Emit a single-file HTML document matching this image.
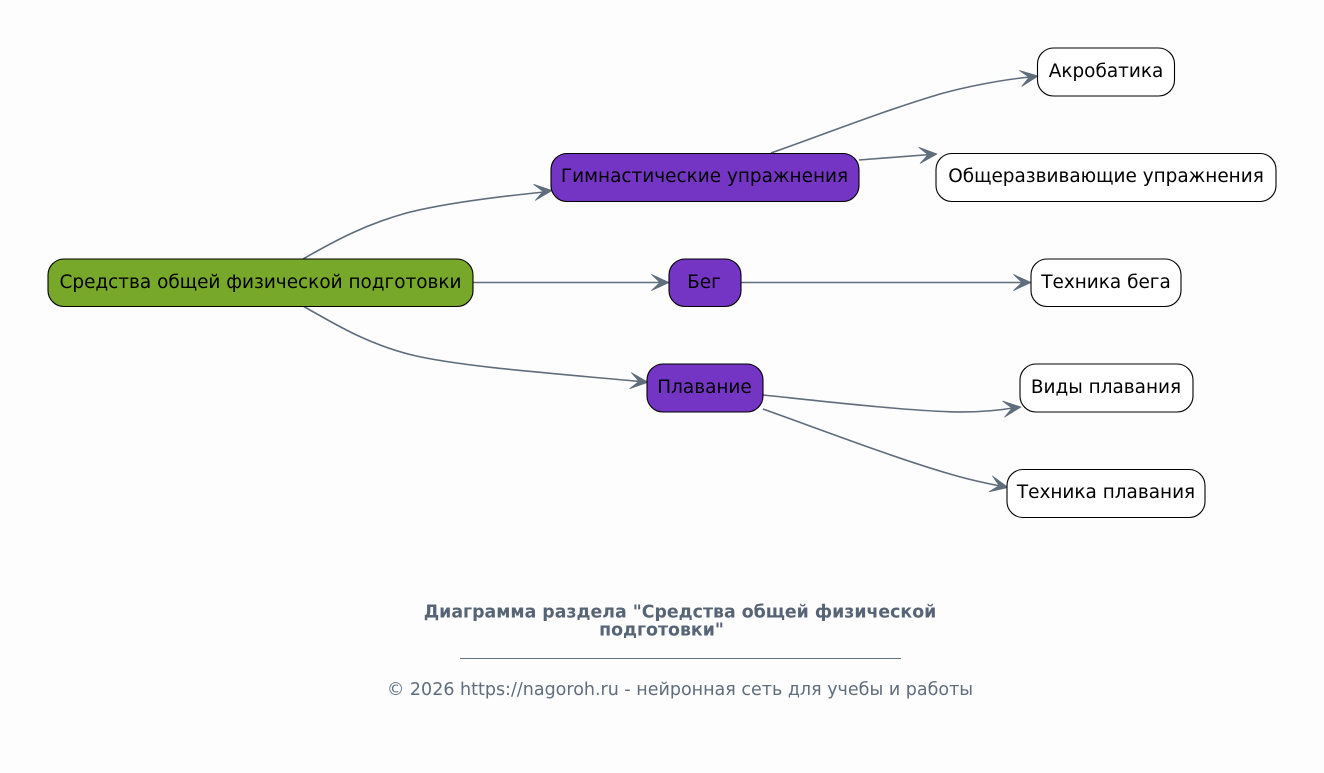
<!DOCTYPE html>
<html><head><meta charset="utf-8"><style>
html,body{margin:0;padding:0;background:#fdfdfd}
svg{display:block}
text{font-family:"DejaVu Sans",sans-serif}
.n{stroke:#000;stroke-width:1.1}
.l{font-size:18.45px;fill:#000;text-anchor:middle}
.e{fill:none;stroke:#5f6d7c;stroke-width:1.6}
.a{fill:#5f6d7c;stroke:#5f6d7c;stroke-width:.8;stroke-linejoin:round}
</style></head><body>
<svg width="1324" height="773" viewBox="0 0 1324 773" xmlns="http://www.w3.org/2000/svg">
<rect width="1324" height="773" fill="#fdfdfd"/>
<defs>
<g id="h"><path class="a" d="M0 0L-17.5 -8L-9 0L-17.5 8Z"/></g>
</defs>
<path class="e" d="M303 259C338 239 365 225 403 214C443 203 505 196 544 192"/>
<path class="e" d="M473 282.5L662 282.5"/>
<path class="e" d="M303 306C338 326 368 344 412 355C462 367 560 374 640 381.5"/>
<path class="e" d="M771 153C825 134 880 112 940 94C965 87 1000 80 1030 77"/>
<path class="e" d="M859 160L930 154.5"/>
<path class="e" d="M741 282.5L1023 282.5"/>
<path class="e" d="M763 395C830 402 900 410 950 411.8C975 412.5 995 411 1013 408"/>
<path class="e" d="M763 409C830 433 895 458 950 474C968 479.5 985 483 1000 486"/>
<use href="#h" transform="translate(552,190.5) rotate(-6)"/>
<use href="#h" transform="translate(669,282.5)"/>
<use href="#h" transform="translate(648,382.3) rotate(5.5)"/>
<use href="#h" transform="translate(1038,76) rotate(-8)"/>
<use href="#h" transform="translate(937,154) rotate(-4.5)"/>
<use href="#h" transform="translate(1031,282.5)"/>
<use href="#h" transform="translate(1021,407) rotate(-7)"/>
<use href="#h" transform="translate(1008,487.5) rotate(12)"/>
<rect class="n" x="48" y="259" width="425" height="47.5" rx="16" fill="#78a82a"/>
<rect class="n" x="551" y="153.5" width="308" height="48" rx="16" fill="#7535c4"/>
<rect class="n" x="669" y="259" width="72" height="47.5" rx="16" fill="#7535c4"/>
<rect class="n" x="647" y="364" width="116" height="48" rx="16" fill="#7535c4"/>
<rect class="n" x="1037.5" y="48" width="137" height="48" rx="16" fill="#fff"/>
<rect class="n" x="936" y="153.5" width="340" height="48" rx="16" fill="#fff"/>
<rect class="n" x="1031" y="259" width="150" height="47.5" rx="16" fill="#fff"/>
<rect class="n" x="1020" y="364" width="173" height="48" rx="16" fill="#fff"/>
<rect class="n" x="1007" y="469.5" width="198" height="48" rx="16" fill="#fff"/>
<text class="l" x="260.5" y="288">Средства общей физической подготовки</text>
<text class="l" x="704.5" y="182">Гимнастические упражнения</text>
<text class="l" x="704" y="288">Бег</text>
<text class="l" x="704.5" y="393">Плавание</text>
<text class="l" x="1106" y="77">Акробатика</text>
<text class="l" x="1106" y="182">Общеразвивающие упражнения</text>
<text class="l" x="1106" y="288">Техника бега</text>
<text class="l" x="1106" y="393">Виды плавания</text>
<text class="l" x="1106" y="498">Техника плавания</text>
<g text-anchor="middle" fill="#566475">
<text x="680" y="617.5" font-size="17.35" font-weight="bold">Диаграмма раздела "Средства общей физической</text>
<text x="661.5" y="635.5" font-size="17.35" font-weight="bold">подготовки"</text>
<text x="680" y="695" font-size="17.5" fill="#5f6d7c">© 2026 https://nagoroh.ru - нейронная сеть для учебы и работы</text>
</g>
<rect x="460" y="658" width="441" height="1" fill="#64717f"/>
</svg>
</body></html>
